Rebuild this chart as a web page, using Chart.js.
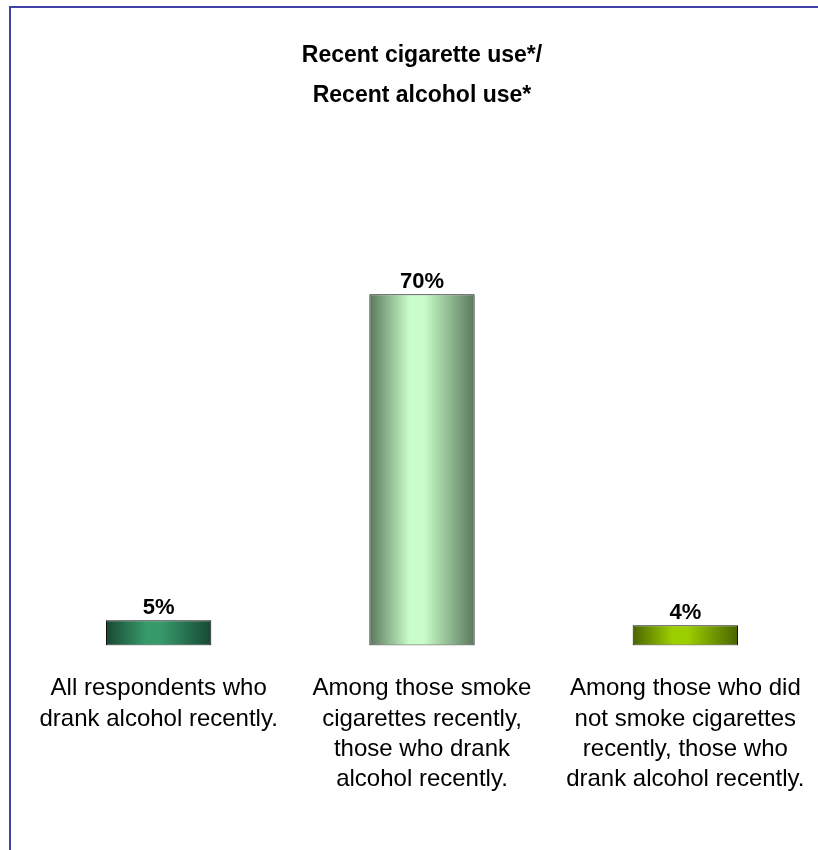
<!DOCTYPE html>
<html lang="en">
<head>
    <meta charset="UTF-8">
    <title>Recent cigarette use / Recent alcohol use</title>
    <script src="https://cdn.jsdelivr.net/npm/chart.js@4.4.1/dist/chart.umd.min.js"></script>
    <style>
        body { margin: 0; background: #fff; }
        canvas { display: block; }
    </style>
</head>
<body>
    <canvas id="myChart" width="818" height="850"></canvas>

<script>
// chart data
var titleLines = ['Recent cigarette use*/', 'Recent alcohol use*'];
var categories = [
    ['All respondents who', 'drank alcohol recently.'],
    ['Among those smoke', 'cigarettes recently,', 'those who drank', 'alcohol recently.'],
    ['Among those who did', 'not smoke cigarettes', 'recently, those who', 'drank alcohol recently.']
];
var percentValues = [5, 70, 4];
var edgeColors = ['#174832', '#5a775c', '#4a6400'];
var centerColors = ['#379a6b', '#c8fcc8', '#9ccf00'];

var plainFont = "'Liberation Sans', Arial, sans-serif";

// horizontal dark-light-dark fill for each bar
function barGradient(ctx) {
    var chart = ctx.chart;
    var area = chart.chartArea;
    var i = ctx.dataIndex;
    if (!area || !chart.scales.x) return centerColors[i];
    var x = chart.scales.x.getPixelForValue(i);
    var w = (area.right - area.left) / categories.length * 0.4;
    var g = chart.ctx.createLinearGradient(x - w / 2, 0, x + w / 2, 0);
    g.addColorStop(0, edgeColors[i]);
    g.addColorStop(0.38, centerColors[i]);
    g.addColorStop(0.52, centerColors[i]);
    g.addColorStop(1, edgeColors[i]);
    return g;
}

// frame lines on the top and left edge
var framePlugin = {
    id: 'frame',
    beforeDraw: function(chart) {
        var c = chart.ctx;
        c.save();
        c.fillStyle = '#ffffff';
        c.fillRect(0, 0, chart.width, chart.height);
        c.fillStyle = '#4040a6';
        c.fillRect(9, 6, chart.width - 9, 2);
        c.fillRect(9, 6, 2, chart.height - 6);
        c.restore();
    }
};

// percent labels above the bars
var valueLabelPlugin = {
    id: 'valueLabels',
    afterDatasetsDraw: function(chart) {
        var c = chart.ctx;
        var meta = chart.getDatasetMeta(0);
        c.save();
        c.font = 'bold 22px ' + plainFont;
        c.fillStyle = '#000';
        c.textAlign = 'center';
        c.textBaseline = 'alphabetic';
        meta.data.forEach(function(bar, i) {
            c.fillText(percentValues[i] + '%', bar.x, bar.y - 6);
        });
        c.restore();
    }
};

var ctx = document.getElementById('myChart').getContext('2d');
var myChart = new Chart(ctx, {
    type: 'bar',
    data: {
        labels: categories,
        datasets: [{
            data: percentValues,
            backgroundColor: barGradient,
            borderColor: '#111111',
            borderWidth: 1,
            borderSkipped: false,
            categoryPercentage: 1,
            barPercentage: 0.4
        }]
    },
    options: {
        responsive: false,
        animation: false,
        layout: { padding: { left: 27, right: 1, top: 0, bottom: 55 } },
        plugins: {
            legend: { display: false },
            tooltip: { enabled: false },
            title: {
                display: true,
                text: titleLines,
                color: '#000',
                font: { family: plainFont, size: 23, weight: 'bold', lineHeight: 40 / 23 },
                padding: { top: 36, bottom: 128 }
            }
        },
        scales: {
            x: {
                // ticks hidden, tickLength only pushes the labels down
                grid: { display: false, drawTicks: true, tickLength: 28 },
                border: { display: false },
                ticks: {
                    color: '#000',
                    padding: 0,
                    maxRotation: 0,
                    autoSkip: false,
                    font: { family: plainFont, size: 24, lineHeight: 30.4 / 24 }
                }
            },
            y: {
                display: false,
                min: 0,
                max: 80
            }
        }
    },
    plugins: [framePlugin, valueLabelPlugin]
});
</script>
</body>
</html>
